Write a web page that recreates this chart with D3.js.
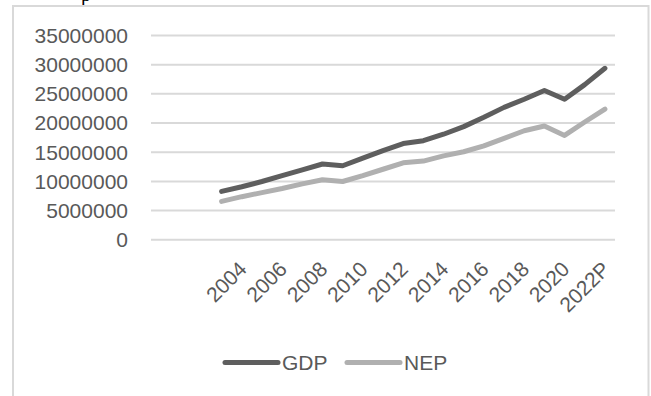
<!DOCTYPE html>
<html>
<head>
<meta charset="utf-8">
<script src="https://cdn.jsdelivr.net/npm/d3@7"></script>
<style>
  html, body { margin: 0; padding: 0; background: #fff; }
  svg { display: block; }
</style>
</head>
<body>
<div id="chart"></div>
<script>
// Categories on the axis (first ones are empty slots in the source chart)
const categories = ["2000","2001","2002","2003","2004","2005","2006","2007","2008","2009","2010",
  "2011","2012","2013","2014","2015","2016","2017","2018","2019","2020","2021","2022P"];
const tickLabels = ["2004","2006","2008","2010","2012","2014","2016","2018","2020","2022P"];
const yTicks = [0, 5000000, 10000000, 15000000, 20000000, 25000000, 30000000, 35000000];
const seriesNames = ["GDP", "NEP"];
const gdp = [null, null, null, 8200000, 9000000, 9900000, 10900000, 11900000, 12900000, 12600000,
  13900000, 15200000, 16400000, 16900000, 18000000, 19300000, 20900000, 22600000, 24000000,
  25500000, 24000000, 26500000, 29300000];
const nep = [null, null, null, 6500000, 7300000, 8000000, 8700000, 9500000, 10200000, 9900000,
  10900000, 12000000, 13100000, 13400000, 14300000, 15000000, 16000000, 17300000, 18600000,
  19400000, 17800000, 20100000, 22300000];

const W = 651, H = 396;
const svg = d3.select("#chart").append("svg").attr("width", W).attr("height", H);
const font = "'Liberation Sans', Arial, sans-serif";
const textColor = "#595959";

// fragment of text above the chart
svg.append("text").attr("x", 81).attr("y", 0.5)
  .attr("font-family", "'Liberation Serif', serif").attr("font-size", 20).attr("fill", "#000").text("p");

// chart border
svg.append("rect").attr("x", 13).attr("y", 6).attr("width", 635.5).attr("height", 420)
  .attr("fill", "#fff").attr("stroke", "#d9d9d9").attr("stroke-width", 2);

const plot = { left: 151, right: 615, top: 35, bottom: 239.3 };

const x = d3.scaleBand().domain(categories).range([plot.left, plot.right]).padding(0);
const y = d3.scaleLinear().domain([0, 35000000]).range([plot.bottom, plot.top]);
const cx = d => x(d) + x.bandwidth() / 2;

// gridlines + y labels via axis
const yAxis = d3.axisLeft(y).tickValues(yTicks).tickFormat(d3.format("d"))
  .tickSize(-(plot.right - plot.left)).tickPadding(23);
const gy = svg.append("g").attr("transform", `translate(${plot.left},0)`).call(yAxis);
gy.select(".domain").remove();
gy.selectAll(".tick line").attr("stroke", "#d9d9d9").attr("stroke-width", 2);
gy.selectAll(".tick text").attr("font-family", font).attr("font-size", 21)
  .attr("fill", textColor).attr("dy", "0.35em");

// x labels
const xAxis = d3.axisBottom(x).tickValues(tickLabels).tickSize(0).tickFormat(d => d);
const gx = svg.append("g").attr("transform", `translate(0,${plot.bottom})`).call(xAxis);
gx.select(".domain").remove();
gx.selectAll(".tick text")
  .attr("font-family", font).attr("font-size", 21).attr("fill", textColor)
  .attr("text-anchor", "end")
  .attr("y", 0).attr("dy", "0.35em")
  .attr("transform", "translate(1,26) rotate(-45)");

// lines
const colors = { GDP: "#5e5e5e", NEP: "#b0b0b0" };
const data = { GDP: gdp, NEP: nep };
const line = d3.line()
  .defined(d => d.v !== null)
  .x(d => cx(d.c)).y(d => y(d.v));
seriesNames.slice().reverse().forEach(name => {
  const pts = categories.map((c, i) => ({ c, v: data[name][i] }));
  svg.append("path").datum(pts).attr("d", line)
    .attr("fill", "none").attr("stroke", colors[name]).attr("stroke-width", 5)
    .attr("stroke-linejoin", "round").attr("stroke-linecap", "round");
});

// legend
const legendX = [225, 347];
seriesNames.forEach((name, i) => {
  const g = svg.append("g").attr("transform", `translate(${legendX[i]},362.5)`);
  g.append("line").attr("x1", 0).attr("x2", 53).attr("y1", 0).attr("y2", 0)
    .attr("stroke", colors[name]).attr("stroke-width", 5).attr("stroke-linecap", "round");
  g.append("text").attr("x", 57).attr("y", 0).attr("dy", "0.35em")
    .attr("font-family", font).attr("font-size", 21).attr("fill", textColor).text(name);
});
</script>
</body>
</html>
